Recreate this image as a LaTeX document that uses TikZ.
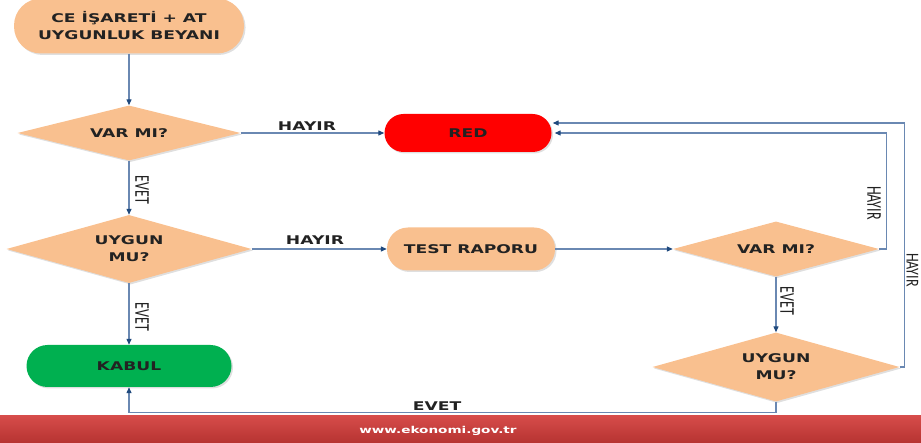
\documentclass[tikz,border=0pt]{standalone}
\usepackage{fontspec}
\usepackage{graphicx}
\setmainfont{DejaVu Sans}
\newfontfamily\wb{DejaVu Sans Bold}[FakeStretch=1.43]
\newfontfamily\rl{Carlito}
\usetikzlibrary{shapes.geometric,arrows.meta,shadows,calc}
\definecolor{peach}{HTML}{F9C08F}
\definecolor{lnc}{HTML}{6A88B2}
\definecolor{arc}{HTML}{1F497D}
\definecolor{okgreen}{HTML}{00B050}
\definecolor{txt}{HTML}{222222}
\definecolor{foottop}{HTML}{D64C4A}
\definecolor{footbot}{HTML}{B63331}
\begin{document}
\begin{tikzpicture}[x=1pt,y=-1pt,
  shd/.style={drop shadow={shadow xshift=1.5pt,shadow yshift=-1.5pt,opacity=0.25}},
  stadium/.style={rectangle, shd, draw=none, inner sep=0pt, text=txt, align=center,
    font=\wb\fontsize{12}{17}\selectfont},
  dec/.style={diamond, aspect=4, shd, fill=peach, draw=none, inner sep=0pt, text=txt,
    align=center, font=\wb\fontsize{12}{17}\selectfont},
  conn/.style={draw=lnc, line width=1.2pt, -{Triangle[length=6pt,width=5pt,color=arc]}},
  lblh/.style={inner sep=0pt, text=txt, font=\wb\fontsize{12}{14}\selectfont},
  lblv/.style={inner sep=0pt, text=txt, rotate=-90, font=\rl\fontsize{14}{14}\selectfont}
]
\useasboundingbox (0,0) rectangle (921,443);

% footer
\fill[top color=foottop, bottom color=footbot] (0,416) rectangle (921,443);
\node[inner sep=0pt, text=white, font=\wb\fontsize{9.5}{11}\selectfont] (url) at (438,431) {www.ekonomi.gov.tr};

% nodes
\node[stadium, fill=peach, minimum width=230pt, minimum height=55pt, rounded corners=27pt] (start) at (129,26) {CE İŞARETİ + AT\\UYGUNLUK BEYANI};
\node[dec, minimum width=223pt, minimum height=55pt] (d1) at (129,133) {VAR MI?};
\node[dec, minimum width=245pt, minimum height=68pt] (d2) at (129,249) {UYGUN\\MU?};
\node[stadium, fill=red, minimum width=167pt, minimum height=38pt, rounded corners=19pt] (red) at (468,133) {RED};
\node[stadium, fill=peach, minimum width=168pt, minimum height=43pt, rounded corners=21pt] (test) at (471,249) {TEST RAPORU};
\node[dec, minimum width=206pt, minimum height=55pt] (d3) at (776,249) {VAR MI?};
\node[dec, minimum width=247pt, minimum height=69pt] (d4) at (776,367) {UYGUN\\MU?};
\node[stadium, fill=okgreen, minimum width=205pt, minimum height=42pt, rounded corners=21pt] (kabul) at (129,366) {KABUL};

% connectors
\draw[conn] (start.south) -- (d1.north);
\draw[conn] (d1.east) -- (red.west);
\draw[conn] (d1.south) -- (d2.north);
\draw[conn] (d2.east) -- (test.west);
\draw[conn] (d2.south) -- (kabul.north);
\draw[conn] (test.east) -- (d3.west);
\draw[conn] (d3.east) -- ++(7,0) |- ($(red.east)+(3,0)$);
\draw[conn] (d3.south) -- (d4.north);
\draw[conn] (d4.east) -- ++(5,0) |- ($(red.east)+(1,-10)$);
\draw[conn] (d4.south) -- ++(0,11) -| (kabul.south);

% labels
\node[lblh] (h1) at (307,126) {HAYIR};
\node[lblh] (h2) at (315,240) {HAYIR};
\node[lblh] (e4) at (437,406) {EVET};
\node[lblv] (e1) at (142,190) {\scalebox{1}[1.5]{EVET}};
\node[lblv] (e2) at (142,317) {\scalebox{1}[1.5]{EVET}};
\node[lblv] (e3) at (787,301) {\scalebox{1}[1.5]{EVET}};
\node[lblv] (h3) at (874,203) {\scalebox{1}[1.5]{HAYIR}};
\node[lblv] (h4) at (912.5,270) {\scalebox{1}[1.3]{HAYIR}};
\end{tikzpicture}
\end{document}
